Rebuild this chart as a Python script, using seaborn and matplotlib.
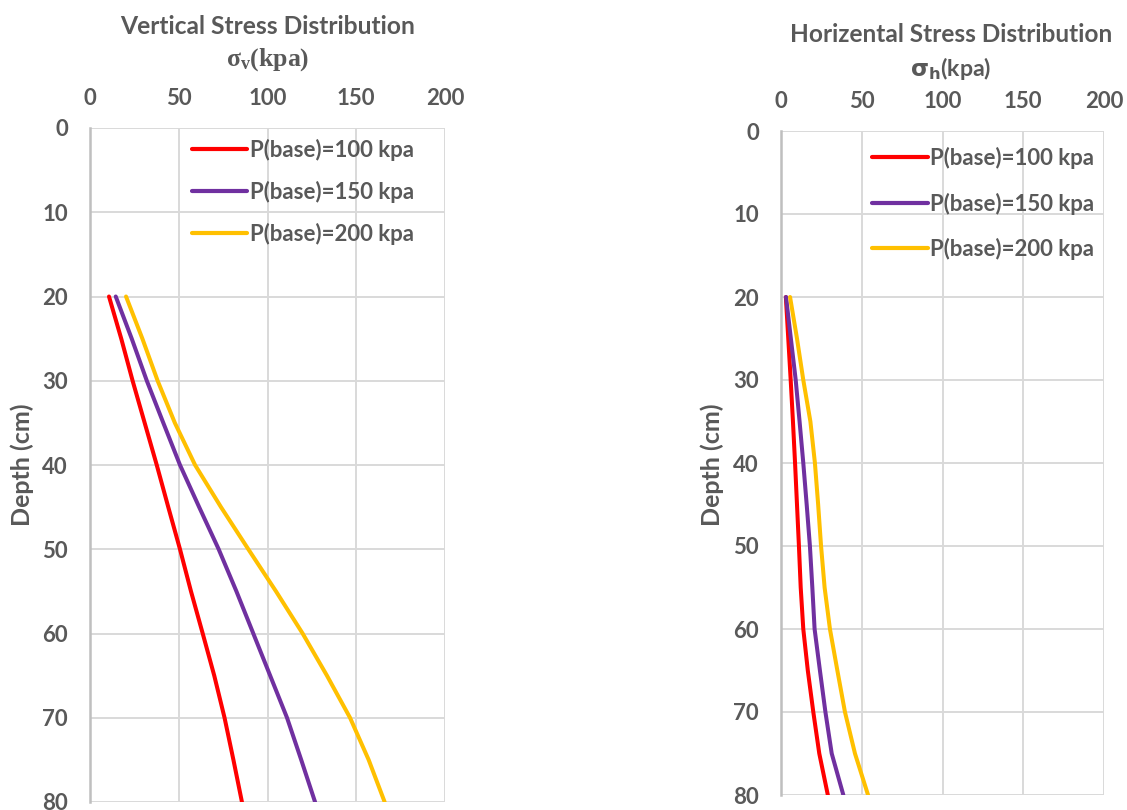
import matplotlib
matplotlib.use("Agg")
import matplotlib.pyplot as plt
import seaborn as sns
import pandas as pd

# ---------------- data ----------------
depth = [20, 25, 30, 35, 40, 45, 50, 55, 60, 65, 70, 75, 80]
labels = ["P(base)=100 kpa", "P(base)=150 kpa", "P(base)=200 kpa"]

sv_100 = [10.7, 17.6, 24.0, 30.8, 37.6, 44.1, 50.7, 56.9, 63.5, 70.0, 75.8, 80.8, 85.6]
sv_150 = [14.5, 23.5, 32.0, 41.3, 50.7, 61.5, 72.5, 82.5, 92.0, 101.5, 111.0, 119.0, 126.8]
sv_200 = [20.3, 29.5, 38.1, 47.8, 59.2, 73.8, 89.2, 104.8, 119.8, 133.5, 146.5, 157.0, 166.0]

sh_100 = [3.0, 4.5, 6.0, 7.4, 8.7, 9.9, 11.1, 12.2, 13.8, 16.6, 20.0, 23.7, 29.0]
sh_150 = [3.1, 6.1, 9.1, 11.5, 13.8, 15.9, 17.9, 19.4, 20.8, 24.1, 27.5, 31.4, 38.6]
sh_200 = [5.6, 9.9, 13.8, 18.2, 21.0, 23.0, 24.8, 27.0, 30.3, 34.9, 39.6, 45.8, 53.9]

x_ticks = [0, 50, 100, 150, 200]
y_ticks = [0, 10, 20, 30, 40, 50, 60, 70, 80]
colors = ["#FF0000", "#7030A0", "#FFC000"]

# ---------------- style ----------------
sns.set_theme(style="white")
plt.rcParams["font.family"] = ["Lato", "DejaVu Sans"]
plt.rcParams["mathtext.fontset"] = "custom"
plt.rcParams["mathtext.rm"] = "Liberation Serif:bold"
plt.rcParams["mathtext.it"] = "Liberation Serif:bold"
plt.rcParams["mathtext.bf"] = "Liberation Serif:bold"
plt.rcParams["mathtext.default"] = "rm"

GRAY = "#595959"
GRID = "#d9d9d9"

fig = plt.figure(figsize=(11.27, 8.10), dpi=100)
axL = fig.add_axes([90 / 1127, 1 - 802 / 810, 355 / 1127, 674 / 810])
axR = fig.add_axes([781 / 1127, 1 - 795 / 810, 323 / 1127, 664 / 810])


def make_df(series):
    rows = []
    for lab, vals in zip(labels, series):
        for d, v in zip(depth, vals):
            rows.append({"depth": d, "stress": v, "series": lab})
    return pd.DataFrame(rows)


def style_axes(ax):
    ax.set_xlim(0, 200)
    ax.set_ylim(80, 0)
    ax.set_xticks(x_ticks)
    ax.set_yticks(y_ticks)
    ax.xaxis.tick_top()
    ax.grid(True, color=GRID, linewidth=1.4)
    for s in ["top", "right", "bottom"]:
        ax.spines[s].set_visible(False)
    ax.spines["left"].set_color("#bfbfbf")
    ax.spines["left"].set_linewidth(1.8)
    ax.tick_params(axis="both", length=0, labelsize=16, labelcolor=GRAY)
    ax.tick_params(axis="x", pad=14)
    ax.tick_params(axis="y", pad=16)
    for lab in ax.get_xticklabels() + ax.get_yticklabels():
        lab.set_fontweight("bold")
    ax.set_xlabel("")
    ax.set_ylabel("")


for ax, series in [(axL, [sv_100, sv_150, sv_200]), (axR, [sh_100, sh_150, sh_200])]:
    df = make_df(series)
    sns.lineplot(data=df, x="stress", y="depth", hue="series", palette=colors,
                 sort=False, estimator=None, linewidth=2.9, ax=ax, legend=True)
    for ln in ax.get_lines():
        ln.set_solid_joinstyle("round")
        ln.set_solid_capstyle("round")

style_axes(axL)
style_axes(axR)

legL = axL.legend(loc="upper left", bbox_to_anchor=(0.287, 0.984), frameon=False,
                  borderpad=0, borderaxespad=0, handlelength=2.5, handletextpad=0.1,
                  labelspacing=0.9, prop={"weight": "bold", "size": 16}, labelcolor=GRAY)
legR = axR.legend(loc="upper left", bbox_to_anchor=(0.282, 0.976), frameon=False,
                  borderpad=0, borderaxespad=0, handlelength=2.5, handletextpad=0.1,
                  labelspacing=1.06, prop={"weight": "bold", "size": 16}, labelcolor=GRAY)
for leg in (legL, legR):
    for h in leg.get_lines():
        h.set_linewidth(3.0)

# y-axis labels
fig.text(22 / 1127, 1 - 465 / 810, "Depth (cm)", rotation=90, ha="center", va="center",
         fontsize=18, fontweight="bold", color=GRAY)
fig.text(712 / 1127, 1 - 465 / 810, "Depth (cm)", rotation=90, ha="center", va="center",
         fontsize=18, fontweight="bold", color=GRAY)

fig.text(268 / 1127, 1 - 26 / 810, "Vertical Stress Distribution", ha="center",
         va="center", fontsize=17.7, fontweight="bold", color=GRAY)
fig.text(268 / 1127, 1 - 60 / 810, r"$\sigma_v$(kpa)", ha="center", va="center",
         fontsize=18.5, fontweight="bold", color=GRAY, family="Liberation Serif")
fig.text(951 / 1127, 1 - 34 / 810, "Horizental Stress Distribution", ha="center",
         va="center", fontsize=17.6, fontweight="bold", color=GRAY)
fig.text(951 / 1127, 1 - 68 / 810, r"$\mathbf{\sigma_h}$(kpa)", ha="center",
         va="center", fontsize=16.7, fontweight="bold", color=GRAY,
         math_fontfamily="dejavusans")

fig.savefig("out.png", dpi=100)
